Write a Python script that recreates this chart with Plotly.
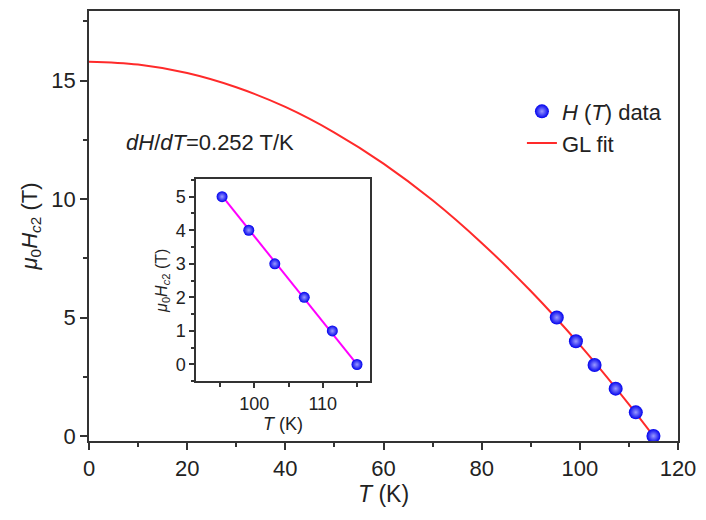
import plotly.graph_objects as go

# Hc2 data points
T_data = [95.3, 99.2, 103.0, 107.3, 111.4, 115.0]
H_data = [5.0, 4.0, 3.0, 2.0, 1.0, 0.0]

# GL fit curve, sampled from the figure
T_fit = [0, 10, 20, 30, 40, 50, 60, 70, 80, 90, 100, 110, 115]
H_fit = [15.8, 15.68, 15.32, 14.72, 13.89, 12.81, 11.5, 9.95, 8.15, 6.12, 3.85, 1.34, 0.0]

# linear fit in the inset
T_lin = [95.3, 115.0]
H_lin = [5.02, 0.0]

FONT = "Liberation Sans, Arial, sans-serif"
AX = "#333333"

fig = go.Figure()

fig.add_trace(go.Scatter(x=T_fit, y=H_fit, mode="lines", line_shape="spline",
                         line=dict(color="#ff2a2a", width=2), name="GL fit",
                         legendrank=2))
fig.add_trace(go.Scatter(x=T_data, y=H_data, mode="markers", name="<i>H</i> (<i>T</i>) data",
                         marker=dict(color="#0000ee", size=14,
                                     gradient=dict(type="radial", color="#9a9aff")),
                         legendrank=1))

# inset
fig.add_trace(go.Scatter(x=T_lin, y=H_lin, mode="lines", xaxis="x2", yaxis="y2",
                         line=dict(color="#ff00ff", width=2), showlegend=False))
fig.add_trace(go.Scatter(x=T_data, y=H_data, mode="markers", xaxis="x2", yaxis="y2",
                         marker=dict(color="#0000ee", size=11,
                                     gradient=dict(type="radial", color="#9a9aff")),
                         showlegend=False))

axis_common = dict(showline=True, linecolor=AX, linewidth=1.5, mirror=True,
                   ticks="outside", tickcolor=AX, tickwidth=1.5, showgrid=False,
                   zeroline=False)

fig.update_layout(
    width=699, height=510,
    margin=dict(l=81, r=29, t=1, b=77),
    paper_bgcolor="white", plot_bgcolor="white",
    font=dict(family=FONT, color="#222222"),
    xaxis=dict(range=[0, 120], dtick=20, ticklen=7,
               minor=dict(dtick=10, ticks="outside", ticklen=4, tickcolor=AX),
               tickfont=dict(size=22),
               title=dict(text="<i>T</i> (K)", font=dict(size=23), standoff=6),
               **axis_common),
    yaxis=dict(range=[-0.21, 17.94], dtick=5, ticklen=7,
               minor=dict(dtick=2.5, ticks="outside", ticklen=4, tickcolor=AX),
               tickfont=dict(size=22),
               title=dict(text="<i>μ</i><sub>0</sub><i>H</i><sub><i>c</i>2</sub> (T)",
                          font=dict(size=22), standoff=8),
               **axis_common),
    xaxis2=dict(domain=[0.1817, 0.4771], anchor="y2", range=[91.5, 116.9],
                tickvals=[100, 110], ticklen=5,
                minor=dict(tickvals=[95, 105, 115], ticks="outside", ticklen=4, tickcolor=AX),
                tickfont=dict(size=18),
                title=dict(text="<i>T</i> (K)", font=dict(size=18), standoff=2),
                **axis_common),
    yaxis2=dict(domain=[0.1389, 0.6088], anchor="x2", range=[-0.5, 5.52],
                dtick=1, ticklen=5,
                minor=dict(dtick=0.5, ticks="outside", ticklen=3, tickcolor=AX),
                tickfont=dict(size=18),
                title=dict(text="<i>μ</i><sub>0</sub><i>H</i><sub><i>c</i>2</sub> (T)",
                           font=dict(size=16), standoff=4),
                **axis_common),
    legend=dict(x=0.735, y=0.815, xanchor="left", yanchor="top",
                font=dict(size=22), bgcolor="rgba(0,0,0,0)", tracegroupgap=2),
    annotations=[dict(text="<i>dH</i>/<i>dT</i>=0.252 T/K", x=0.06, y=0.694,
                      xref="paper", yref="paper", xanchor="left", yanchor="middle",
                      showarrow=False, font=dict(size=22))],
)

fig.write_html("out.html")
